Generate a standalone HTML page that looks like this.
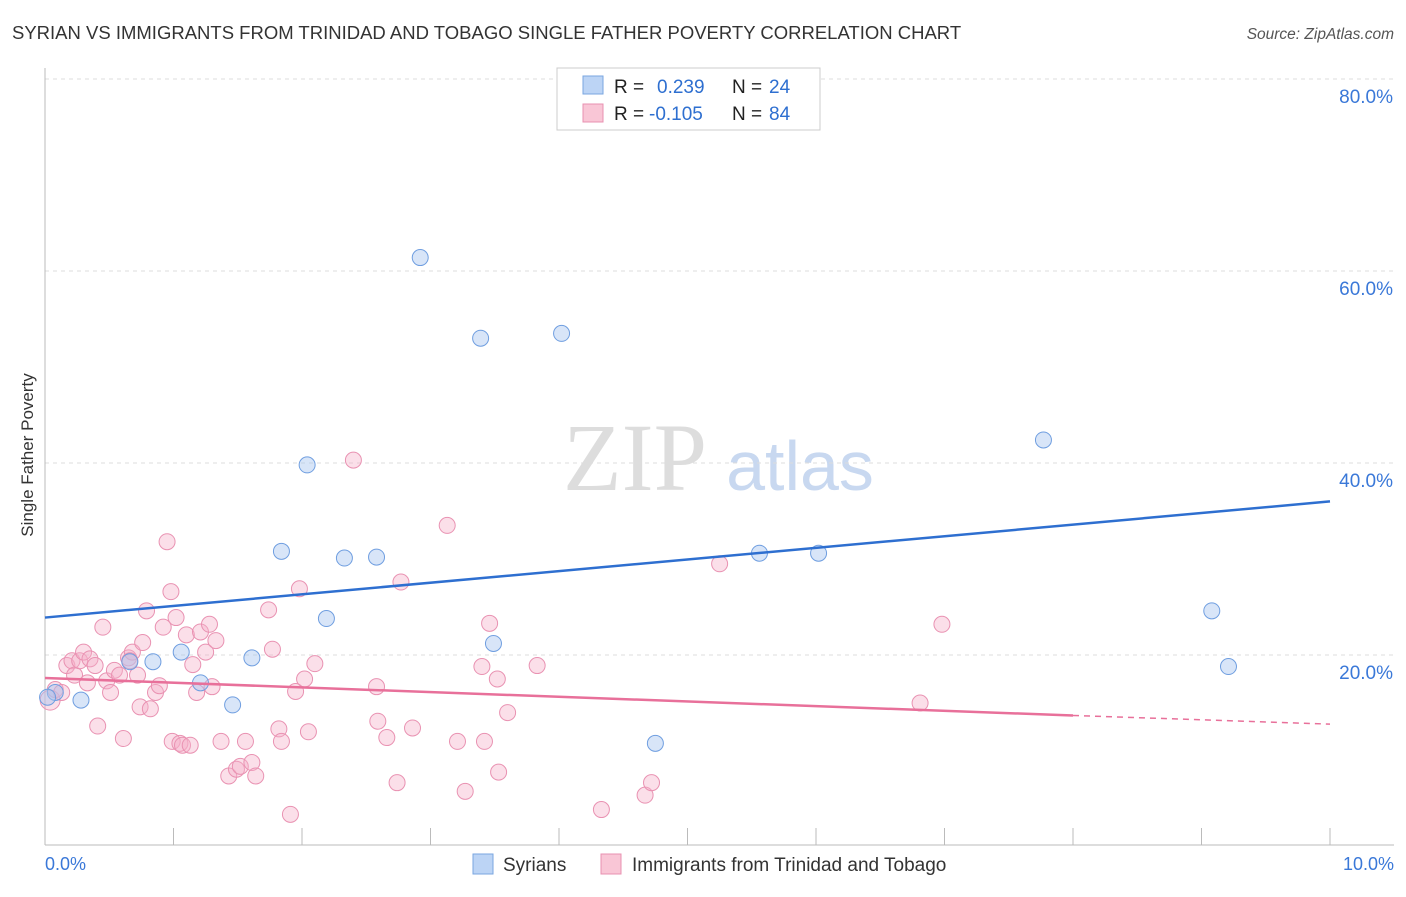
<!DOCTYPE html>
<html><head><meta charset="utf-8"><style>
body{margin:0;background:#fff;font-family:"Liberation Sans",sans-serif}
</style></head><body>
<svg id="c" width="1406" height="892" xmlns="http://www.w3.org/2000/svg">
<text x="12" y="39" font-size="18.5" fill="#333">SYRIAN VS IMMIGRANTS FROM TRINIDAD AND TOBAGO SINGLE FATHER POVERTY CORRELATION CHART</text>
<text x="1394" y="39" font-size="15.5" fill="#555" font-style="italic" text-anchor="end">Source: ZipAtlas.com</text>
<text x="33" y="455" font-size="17" fill="#333" text-anchor="middle" transform="rotate(-90 33 455)">Single Father Poverty</text>
<g><text x="635" y="490" font-size="96" fill="#ddd" font-family="Liberation Serif,serif" text-anchor="middle">ZIP</text><text x="800" y="490" font-size="70" fill="#c8d8f0" text-anchor="middle">atlas</text></g>
<g id="grid"></g><g id="axes"></g><g id="marks"></g>
<g>
<rect x="557" y="68" width="263" height="62" fill="#fff" stroke="#ccc"/>
<rect x="583" y="76" width="20" height="18" fill="#bcd4f5" stroke="#7aa6e0"/>
<rect x="583" y="104" width="20" height="18" fill="#f9c6d6" stroke="#e890b0"/>
<text x="614" y="93" font-size="19" fill="#222">R =</text><text x="657" y="93" font-size="19" fill="#2e6fd0">0.239</text><text x="732" y="93" font-size="19" fill="#222">N =</text><text x="769" y="93" font-size="19" fill="#2e6fd0">24</text>
<text x="614" y="120" font-size="19" fill="#222">R =</text><text x="649" y="120" font-size="19" fill="#2e6fd0">-0.105</text><text x="732" y="120" font-size="19" fill="#222">N =</text><text x="769" y="120" font-size="19" fill="#2e6fd0">84</text>
</g>
<g>
<rect x="473" y="854" width="20" height="20" fill="#bcd4f5" stroke="#7aa6e0"/>
<text x="503" y="871" font-size="19" fill="#333">Syrians</text>
<rect x="601" y="854" width="20" height="20" fill="#f9c6d6" stroke="#e890b0"/>
<text x="632" y="871" font-size="19" fill="#333">Immigrants from Trinidad and Tobago</text>
</g>
</svg>
<script>
const yTicks=[20,40,60,80];
const xTickLabels=["0.0%","10.0%"];
const blueX=[0.08,0.28,0.66,0.84,1.06,1.21,1.46,1.61,1.84,2.04,2.19,2.33,2.58,2.92,3.39,3.49,4.02,4.75,5.56,6.02,7.77,9.08,9.21,0.02];
const blueY=[16.1,15.3,19.3,19.3,20.3,17.1,14.8,19.7,30.8,39.8,23.8,30.1,30.2,61.4,53.0,21.2,53.5,10.8,30.6,30.6,42.4,24.6,18.8,15.6];
const pinkX=[0.04,0.08,0.13,0.17,0.21,0.23,0.27,0.30,0.33,0.35,0.39,0.41,0.45,0.48,0.51,0.54,0.58,0.61,0.65,0.68,0.72,0.74,0.76,0.79,0.82,0.86,0.89,0.92,0.95,0.98,0.99,1.02,1.05,1.07,1.10,1.13,1.15,1.18,1.21,1.25,1.28,1.30,1.33,1.37,1.43,1.49,1.52,1.56,1.61,1.64,1.74,1.77,1.82,1.84,1.91,1.95,1.98,2.02,2.05,2.10,2.40,2.58,2.59,2.66,2.74,2.77,2.86,3.13,3.21,3.27,3.40,3.42,3.46,3.52,3.53,3.60,3.83,4.33,4.67,4.72,5.25,6.81,6.98,0.66];
const pinkY=[15.3,16.4,16.1,18.9,19.4,17.9,19.4,20.3,17.1,19.6,18.9,12.6,22.9,17.3,16.1,18.4,17.9,11.3,19.7,20.3,17.9,14.6,21.3,24.6,14.4,16.1,16.8,22.9,31.8,26.6,11.0,23.9,10.8,10.6,22.1,10.6,19.0,16.1,22.4,20.3,23.2,16.7,21.5,11.0,7.4,8.1,8.4,11.0,8.8,7.4,24.7,20.6,12.3,11.0,3.4,16.2,26.9,17.5,12.0,19.1,40.3,16.7,13.1,11.4,6.7,27.6,12.4,33.5,11.0,5.8,18.8,11.0,23.3,17.5,7.8,14.0,18.9,3.9,5.4,6.7,29.5,15.0,23.2,19.4];
const blueLine=[0,23.9,10,36.0];
const pinkLine=[0,17.6,8,13.7,10,12.8];
const X0=45,X1=1330,Y0=847,PY=9.6;
const sx=v=>X0+(X1-X0)*v/10, sy=v=>Y0-v*PY;
const NS="http://www.w3.org/2000/svg";
function mk(t,a,p){const e=document.createElementNS(NS,t);for(const k in a)e.setAttribute(k,a[k]);p.appendChild(e);return e;}
const grid=document.getElementById('grid'),axes=document.getElementById('axes'),marks=document.getElementById('marks');
yTicks.forEach(t=>{const l=mk('line',{x1:X0,x2:1394,y1:sy(t),y2:sy(t),stroke:'#ddd','stroke-dasharray':'4,4'},grid);


const tx=mk('text',{x:1393,y:sy(t)+24,'font-size':19,fill:'#3a78d8','text-anchor':'end'},axes);tx.textContent=t.toFixed(1)+'%';

});
const ax=mk('line',{x1:X0,x2:1394,y1:845,y2:845,stroke:'#bbb'},axes);


const ay=mk('line',{x1:X0,x2:X0,y1:68,y2:845,stroke:'#bbb'},axes);


for(let i=1;i<=10;i++){const t=mk('line',{x1:sx(i),x2:sx(i),y1:828,y2:845,stroke:'#bbb'},axes);

}
const xl0=mk('text',{x:45,y:870,'font-size':18,fill:'#3a78d8'},axes);xl0.textContent=xTickLabels[0];


const xl1=mk('text',{x:1394,y:870,'font-size':18,fill:'#3a78d8','text-anchor':'end'},axes);xl1.textContent=xTickLabels[1];


pinkX.forEach((x,i)=>{const c=mk('circle',{cx:sx(x),cy:sy(pinkY[i]),r:i==0?10:8,fill:'rgba(246,176,200,0.4)',stroke:'#e992b2','stroke-width':1},marks);

});
blueX.forEach((x,i)=>{const c=mk('circle',{cx:sx(x),cy:sy(blueY[i]),r:8,fill:'rgba(168,198,240,0.45)',stroke:'#6f9ee0','stroke-width':1},marks);

});
const bl=mk('line',{x1:sx(blueLine[0]),y1:sy(blueLine[1]),x2:sx(blueLine[2]),y2:sy(blueLine[3]),stroke:'#2e6fd0','stroke-width':2.5},marks);


const pl=mk('line',{x1:sx(pinkLine[0]),y1:sy(pinkLine[1]),x2:sx(pinkLine[2]),y2:sy(pinkLine[3]),stroke:'#e8709a','stroke-width':2.5},marks);


const pd=mk('line',{x1:sx(pinkLine[2]),y1:sy(pinkLine[3]),x2:sx(pinkLine[4]),y2:sy(pinkLine[5]),stroke:'#e8709a','stroke-width':1.5,'stroke-dasharray':'6,5'},marks);


</script>
</body></html>
